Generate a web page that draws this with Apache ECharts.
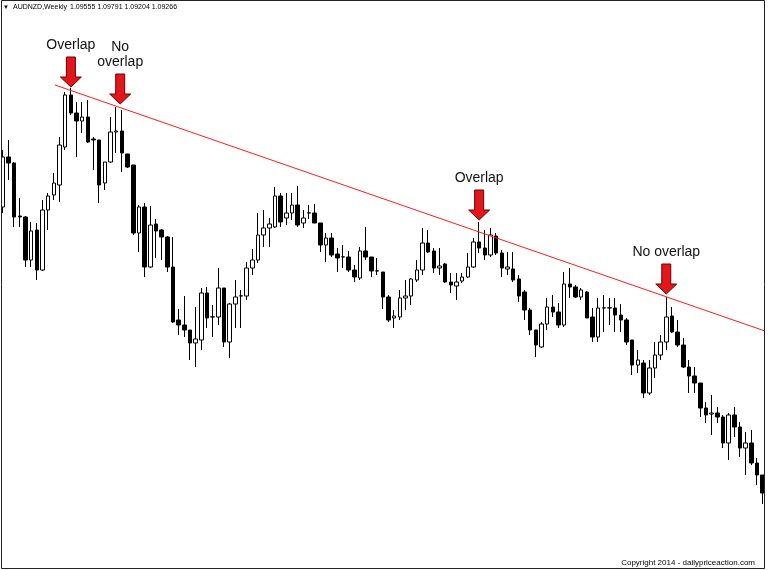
<!DOCTYPE html>
<html><head><meta charset="utf-8">
<script src="https://cdn.jsdelivr.net/npm/echarts@6/dist/echarts.min.js"></script>
<style>html,body{margin:0;padding:0;background:#fff}#c{width:768px;height:570px}</style>
</head><body><div id="c"></div>
<script>
// Weekly AUDNZD candles
const open = [1.393,1.443,1.437,1.384,1.383,1.340,1.370,1.330,1.390,1.405,
1.415,1.453,1.505,1.487,1.479,1.483,1.461,1.460,1.417,1.438,
1.468,1.469,1.446,1.435,1.367,1.393,1.333,1.376,1.370,1.363,
1.333,1.280,1.275,1.270,1.257,1.260,1.307,1.283,1.283,1.312,
1.258,1.296,1.304,1.304,1.332,1.340,1.365,1.372,1.373,1.404,
1.382,1.387,1.395,1.377,1.387,1.387,1.377,1.355,1.362,1.346,
1.343,1.343,1.330,1.322,1.349,1.343,1.329,1.328,1.303,1.282,
1.283,1.302,1.304,1.320,1.330,1.357,1.349,1.332,1.336,1.318,
1.314,1.319,1.323,1.333,1.358,1.352,1.345,1.364,1.347,1.331,
1.331,1.321,1.308,1.290,1.270,1.253,1.276,1.293,1.288,1.275,
1.316,1.313,1.303,1.308,1.283,1.263,1.292,1.292,1.292,1.285,
1.280,1.260,1.235,1.237,1.207,1.232,1.245,1.258,1.284,1.268,
1.255,1.233,1.224,1.217,1.192,1.186,1.187,1.183,1.157,1.185,
1.173,1.152,1.157,1.137,1.125];
const close = [1.443,1.437,1.383,1.383,1.340,1.369,1.330,1.390,1.404,1.417,
1.455,1.505,1.487,1.479,1.483,1.458,1.460,1.415,1.438,1.468,
1.469,1.447,1.433,1.367,1.393,1.333,1.375,1.369,1.363,1.333,
1.278,1.275,1.270,1.257,1.261,1.307,1.282,1.2832,1.312,1.258,
1.296,1.303,1.3042,1.332,1.340,1.365,1.372,1.376,1.404,1.378,
1.387,1.395,1.375,1.382,1.3872,1.377,1.355,1.362,1.345,1.342,
1.3432,1.330,1.323,1.349,1.343,1.329,1.3292,1.303,1.280,1.284,
1.302,1.304,1.321,1.330,1.357,1.348,1.332,1.334,1.318,1.315,
1.318,1.323,1.333,1.358,1.352,1.345,1.365,1.347,1.332,1.333,
1.320,1.304,1.290,1.270,1.255,1.276,1.293,1.288,1.275,1.316,
1.313,1.303,1.310,1.282,1.263,1.292,1.2922,1.2922,1.285,1.280,
1.258,1.235,1.240,1.207,1.232,1.245,1.258,1.283,1.268,1.255,
1.233,1.224,1.217,1.192,1.185,1.187,1.183,1.157,1.185,1.173,
1.152,1.157,1.137,1.125,1.107];
const low = [1.387,1.420,1.373,1.373,1.333,1.333,1.320,1.329,1.370,1.400,
1.398,1.450,1.485,1.443,1.467,1.457,1.430,1.397,1.410,1.437,
1.447,1.428,1.432,1.365,1.348,1.323,1.332,1.342,1.340,1.328,
1.277,1.265,1.263,1.240,1.233,1.250,1.272,1.263,1.275,1.253,
1.242,1.272,1.272,1.300,1.325,1.337,1.353,1.353,1.372,1.373,
1.375,1.380,1.373,1.372,1.381,1.377,1.348,1.338,1.343,1.328,
1.332,1.328,1.318,1.320,1.340,1.323,1.325,1.291,1.278,1.272,
1.280,1.290,1.295,1.318,1.325,1.347,1.327,1.325,1.317,1.307,
1.300,1.317,1.322,1.332,1.347,1.340,1.343,1.345,1.323,1.325,
1.318,1.298,1.280,1.265,1.243,1.252,1.270,1.283,1.272,1.273,
1.302,1.302,1.300,1.282,1.258,1.258,1.268,1.275,1.268,1.268,
1.255,1.225,1.227,1.202,1.205,1.222,1.240,1.250,1.267,1.253,
1.232,1.207,1.207,1.183,1.177,1.165,1.177,1.152,1.140,1.163,
1.143,1.125,1.135,1.115,1.096];
const high = [1.450,1.460,1.438,1.402,1.384,1.378,1.377,1.400,1.407,1.427,
1.463,1.508,1.512,1.498,1.498,1.500,1.463,1.460,1.438,1.483,
1.493,1.490,1.446,1.435,1.395,1.397,1.394,1.381,1.371,1.364,
1.363,1.291,1.304,1.270,1.293,1.312,1.313,1.295,1.332,1.312,
1.297,1.320,1.310,1.338,1.351,1.387,1.390,1.382,1.413,1.407,
1.407,1.407,1.414,1.390,1.395,1.396,1.377,1.367,1.367,1.352,
1.355,1.349,1.335,1.353,1.373,1.343,1.342,1.328,1.305,1.290,
1.310,1.320,1.322,1.340,1.372,1.370,1.352,1.352,1.337,1.327,
1.327,1.327,1.347,1.362,1.378,1.370,1.372,1.367,1.350,1.348,
1.348,1.325,1.310,1.292,1.270,1.278,1.302,1.305,1.297,1.328,
1.332,1.315,1.312,1.309,1.292,1.302,1.305,1.302,1.302,1.296,
1.282,1.260,1.250,1.240,1.240,1.258,1.265,1.303,1.293,1.280,
1.262,1.240,1.233,1.217,1.198,1.205,1.193,1.185,1.187,1.193,
1.178,1.168,1.170,1.142,1.125];
const weeks = open.map((_, i) => 'W' + (i + 1));

// Trend line through the highs: [week index, price]
const trendStart = [9.2, 1.515];
const trendEnd = [134.4, 1.269];

// Annotations: arrow at week index, pointing to price
const noteLabels = ['Overlap', 'No\noverlap', 'Overlap', 'No overlap'];
const noteWeek = [12, 20.7, 84, 117];
const notePrice = [1.513, 1.496, 1.380, 1.306];

const headerSymbol = 'AUDNZD,Weekly';
const headerQuote = '1.09555 1.09791 1.09204 1.09266';
const copyright = 'Copyright 2014 - dailypriceaction.com';

const chart = echarts.init(document.getElementById('c'), null, {renderer: 'canvas'});
const candleData = open.map((o, i) => [o, close[i], low[i], high[i]]);
const N = open.length;

chart.setOption({
  animation: false,
  backgroundColor: '#fff',
  grid: {left: 0, right: 2.5, top: 0, bottom: 0},
  xAxis: [
    {type: 'category', data: weeks, show: false, boundaryGap: true},
    {type: 'value', min: -0.5, max: N - 0.5, show: false}
  ],
  yAxis: {type: 'value', min: 1.03, max: 1.6, show: false, scale: true},
  series: [
    {
      type: 'candlestick',
      data: candleData,
      barWidth: 4,
      itemStyle: {color: '#ffffff', color0: '#000000', borderColor: '#000000', borderColor0: '#000000', borderWidth: 1}
    },
    {
      type: 'line',
      xAxisIndex: 1,
      data: [trendStart, trendEnd],
      symbol: 'none',
      lineStyle: {color: '#ff1a1a', width: 1},
      z: 5
    }
  ]
});

const g = [];
g.push({type: 'rect', shape: {x: 1.5, y: 0.5, width: 763, height: 568}, style: {fill: 'none', stroke: '#222', lineWidth: 1}, z: 100});
g.push({type: 'text', x: 3, y: 7, style: {text: '\u25BC', font: '6px "Liberation Sans"', fill: '#000', verticalAlign: 'middle'}, z: 100});
g.push({type: 'text', x: 13, y: 7, style: {text: headerSymbol, font: '7px "Liberation Sans"', fill: '#000', verticalAlign: 'middle'}, z: 100});
g.push({type: 'text', x: 70, y: 7, style: {text: headerQuote, font: '7px "Liberation Sans"', fill: '#000', verticalAlign: 'middle'}, z: 100});
g.push({type: 'text', x: 755, y: 563, style: {text: copyright, font: '8px "Liberation Sans"', fill: '#000', align: 'right', verticalAlign: 'middle'}, z: 100});

noteLabels.forEach((lab, i) => {
  const p = chart.convertToPixel({seriesIndex: 1}, [noteWeek[i], notePrice[i]]);
  const px = p[0], py = p[1];
  g.push({type: 'polygon', shape: {points: [
    [px - 4.5, py - 30], [px + 4.5, py - 30], [px + 4.5, py - 10], [px + 10.5, py - 10],
    [px, py], [px - 10.5, py - 10], [px - 4.5, py - 10]
  ]}, style: {fill: '#e3161b', stroke: '#6a0000', lineWidth: 1}, z: 90});
  g.push({type: 'text', x: px, y: py - 34, style: {text: lab, font: '14px "Liberation Sans"', fill: '#111', align: 'center', verticalAlign: 'bottom', lineHeight: 15}, z: 90});
});
chart.setOption({graphic: g});
</script></body></html>
